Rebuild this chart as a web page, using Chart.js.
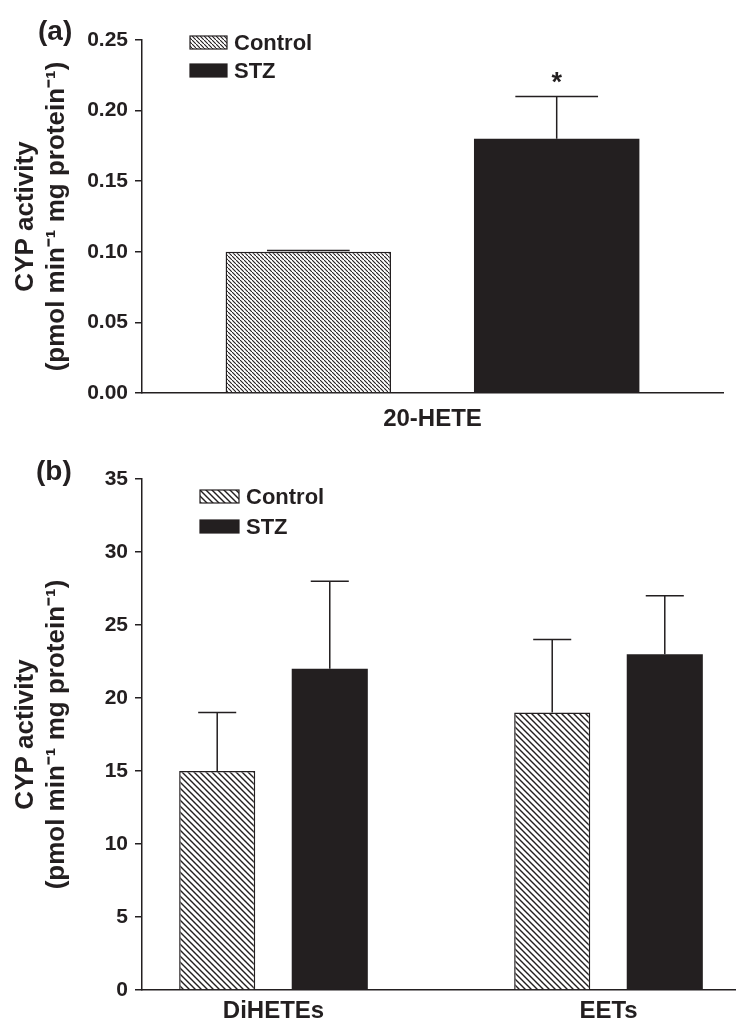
<!DOCTYPE html>
<html>
<head>
<meta charset="utf-8">
<script src="https://cdn.jsdelivr.net/npm/chart.js@4"></script>
<style>
  body { margin: 0; background: #fff; }
  canvas { display: block; }
</style>
</head>
<body>
<canvas id="chartA" width="751" height="440"></canvas>
<canvas id="chartB" width="751" height="595"></canvas>
<script>
// Panel (a) data
const catsA = ['20-HETE'];
const controlA = [0.100];
const controlErrA = [0.001];
const stzA = [0.180];
const stzErrA = [0.030];
const stzSigA = ['*'];
const yTicksA = [0, 0.05, 0.10, 0.15, 0.20, 0.25];

// Panel (b) data
const catsB = ['DiHETEs', 'EETs'];
const xTicksB = [0, 1];
const controlB = [15, 19];
const controlErrB = [4, 5];
const stzB = [22, 23];
const stzErrB = [6, 4];
const yTicksB = [0, 5, 10, 15, 20, 25, 30, 35];

const yTitle = ['CYP activity', '(pmol min\u207B\u00B9 mg protein\u207B\u00B9)'];
const ink = '#231f20';
const FONT = '"Liberation Sans", Arial, Helvetica, sans-serif';

// diagonal hatch fill
function hatch(step, lw) {
  const c = document.createElement('canvas');
  c.width = step; c.height = step;
  const g = c.getContext('2d');
  g.fillStyle = '#fff';
  g.fillRect(0, 0, step, step);
  g.strokeStyle = ink;
  g.lineWidth = lw;
  g.beginPath();
  g.moveTo(-1, -1); g.lineTo(step + 1, step + 1);
  g.moveTo(step - 1, -1); g.lineTo(step + 1, 1);
  g.moveTo(-1, step - 1); g.lineTo(1, step + 1);
  g.stroke();
  return g.createPattern(c, 'repeat');
}

// error bars (+ significance marks)
const errorBars = {
  id: 'errorBars',
  afterDatasetsDraw(chart) {
    const ctx = chart.ctx;
    const yScale = chart.scales.y;
    chart.data.datasets.forEach((ds, i) => {
      const meta = chart.getDatasetMeta(i);
      meta.data.forEach((bar, j) => {
        const raw = ds.data[j];
        const val = typeof raw === 'object' ? raw.y : raw;
        const top = yScale.getPixelForValue(val + ds.errors[j]);
        const half = bar.width / 4;
        ctx.save();
        ctx.strokeStyle = ink;
        ctx.lineWidth = 1.5;
        ctx.beginPath();
        ctx.moveTo(bar.x, bar.y);
        ctx.lineTo(bar.x, top);
        ctx.moveTo(bar.x - half, top);
        ctx.lineTo(bar.x + half, top);
        ctx.stroke();
        if (ds.marks && ds.marks[j]) {
          ctx.fillStyle = ink;
          ctx.font = 'bold 27px ' + FONT;
          ctx.textAlign = 'center';
          ctx.textBaseline = 'alphabetic';
          ctx.fillText(ds.marks[j], bar.x, top - 5);
        }
        ctx.restore();
      });
    });
  }
};

// boxed legend + panel letter
const boxLegend = {
  id: 'boxLegend',
  afterDraw(chart, args, opts) {
    const ctx = chart.ctx;
    ctx.save();
    chart.data.datasets.forEach((ds, i) => {
      const y = opts.y + i * opts.gap;
      ctx.fillStyle = ds.backgroundColor;
      ctx.fillRect(opts.x, y, opts.w, opts.h);
      ctx.strokeStyle = ink;
      ctx.lineWidth = 1.2;
      ctx.strokeRect(opts.x, y, opts.w, opts.h);
      ctx.fillStyle = ink;
      ctx.font = 'bold 22px ' + FONT;
      ctx.textAlign = 'left';
      ctx.textBaseline = 'middle';
      ctx.fillText(ds.label, opts.x + opts.w + 7, y + opts.h / 2 + 1);
    });
    ctx.font = 'bold 28px ' + FONT;
    ctx.textBaseline = 'middle';
    ctx.fillText(opts.panel, opts.px, opts.py);
    ctx.restore();
  }
};

function yScaleOpts(ticksArr, fmt) {
  return {
    min: ticksArr[0],
    max: ticksArr[ticksArr.length - 1],
    afterBuildTicks: s => { s.ticks = ticksArr.map(v => ({ value: v })); },
    afterFit: s => { s.width = 142; },
    ticks: { color: ink, padding: 7, font: { family: FONT, size: 21, weight: 'bold' }, callback: fmt },
    grid: { drawOnChartArea: false, drawTicks: true, tickLength: 7, color: ink, lineWidth: 1.5 },
    border: { color: ink, width: 1.5 },
    title: {
      display: true,
      text: yTitle,
      color: ink,
      font: { family: FONT, size: 26, weight: 'bold', lineHeight: 1.19 },
      padding: { top: 10, bottom: 0 }
    }
  };
}

// Panel (a)
new Chart(document.getElementById('chartA'), {
  type: 'bar',
  data: {
    labels: catsA,
    datasets: [
      { label: 'Control', data: controlA, errors: controlErrA, backgroundColor: hatch(4.5, 1.1),
        borderColor: ink, borderWidth: 1.5, barPercentage: 0.666, categoryPercentage: 0.855 },
      { label: 'STZ', data: stzA, errors: stzErrA, marks: stzSigA, backgroundColor: ink,
        borderColor: ink, borderWidth: 0, barPercentage: 0.666, categoryPercentage: 0.855 }
    ]
  },
  options: {
    responsive: false,
    animation: false,
    layout: { padding: { top: 40, right: 28, left: 0, bottom: 0 } },
    plugins: {
      legend: { display: false },
      tooltip: { enabled: false },
      boxLegend: { x: 190, y: 36, w: 37, h: 13, gap: 28, panel: '(a)', px: 38, py: 32 }
    },
    scales: {
      x: {
        afterFit: s => { s.height = 47; },
        grid: { display: false, drawTicks: false },
        border: { color: ink, width: 1.5 },
        ticks: { color: ink, padding: 12, font: { family: FONT, size: 24, weight: 'bold' } }
      },
      y: yScaleOpts(yTicksA, v => v.toFixed(2))
    }
  },
  plugins: [errorBars, boxLegend]
});

// Panel (b)
new Chart(document.getElementById('chartB'), {
  type: 'bar',
  data: {
    datasets: [
      { label: 'Control', data: controlB.map((v, i) => ({ x: xTicksB[i], y: v })), errors: controlErrB,
        backgroundColor: hatch(6, 1.4), borderColor: ink, borderWidth: 1.5,
        barPercentage: 0.676, categoryPercentage: 0.672 },
      { label: 'STZ', data: stzB.map((v, i) => ({ x: xTicksB[i], y: v })), errors: stzErrB,
        backgroundColor: ink, borderColor: ink, borderWidth: 0,
        barPercentage: 0.676, categoryPercentage: 0.672 }
    ]
  },
  options: {
    responsive: false,
    animation: false,
    layout: { padding: { top: 39, right: 16, left: 0, bottom: 0 } },
    plugins: {
      legend: { display: false },
      tooltip: { enabled: false },
      boxLegend: { x: 200, y: 50, w: 39, h: 13, gap: 30, panel: '(b)', px: 36, py: 32 }
    },
    scales: {
      x: {
        type: 'linear',
        offset: false,
        min: -0.3925,
        max: 1.3776,
        afterBuildTicks: s => { s.ticks = xTicksB.map(v => ({ value: v })); },
        afterFit: s => { s.height = 45; },
        grid: { display: false, drawTicks: false },
        border: { color: ink, width: 1.5 },
        ticks: { color: ink, padding: 7, autoSkip: false, maxRotation: 0,
          font: { family: FONT, size: 24, weight: 'bold' }, callback: v => catsB[v] }
      },
      y: yScaleOpts(yTicksB, v => v)
    }
  },
  plugins: [errorBars, boxLegend]
});
</script>
</body>
</html>
